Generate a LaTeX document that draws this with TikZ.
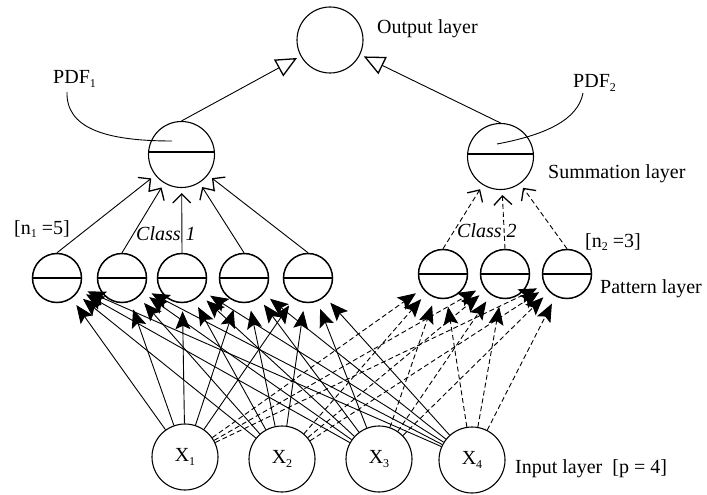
\documentclass[tikz,border=0pt]{standalone}
\usepackage{fontspec}
\setmainfont{Liberation Serif}
\usetikzlibrary{arrows.meta}
% small lowered index, as in X_1, n_1, PDF_1
\newcommand\lsub[1]{\raisebox{-3.5pt}{\fontsize{12}{12}\selectfont #1}}
\tikzset{
  unit/.style={circle, draw, line width=1.1pt, inner sep=0pt},
  outnode/.style={unit, minimum size=66pt},
  inputnode/.style={unit, minimum size=66pt},
  sumnode/.style={unit, minimum size=66pt,
    path picture={\draw[line width=1.2pt]
      ([yshift=2.5pt]path picture bounding box.west) --
      ([yshift=2.5pt]path picture bounding box.east);}},
  patnode/.style={unit, line width=1.5pt, minimum size=49pt,
    path picture={\draw[line width=1.2pt]
      (path picture bounding box.west) -- (path picture bounding box.east);}},
  dashline/.style={dash pattern=on 5pt off 3pt},
  inarrow/.style={line width=0.9pt, shorten >=8pt,
    -{Stealth[length=18pt,width=15pt,inset=3.5pt]}},
  sumarrow/.style={line width=0.9pt, shorten >=5pt,
    -{Straight Barb[length=9pt,width=18pt,line width=1.3pt]}},
  outarrow/.style={line width=0.9pt, shorten >=4pt,
    -{Triangle[open,length=21pt,width=19pt,line width=1.3pt]}},
  label/.style={inner sep=0pt, anchor=base west},
}
\begin{document}
\begin{tikzpicture}[x=1pt, y=-1pt, font=\fontsize{20}{24}\selectfont]
\useasboundingbox (0,0) rectangle (707,495);

% output and summation units
\node[outnode] (out) at (330,40) {};
\node[sumnode] (s1) at (181.5,154.5) {};
\node[sumnode] (s2) at (500.5,156.5) {};

% pattern units, class 1 and class 2
\node[patnode] (p1) at (57,278) {};
\node[patnode] (p2) at (122,278) {};
\node[patnode] (p3) at (182,278) {};
\node[patnode] (p4) at (244,278) {};
\node[patnode] (p5) at (308,278) {};
\node[patnode] (q1) at (443,274) {};
\node[patnode] (q2) at (505,274) {};
\node[patnode] (q3) at (567,274) {};

% input units
\node[inputnode] (x1) at (185,457) {X\lsub{1}};
\node[inputnode] (x2) at (282,459) {X\lsub{2}};
\node[inputnode] (x3) at (379,459) {X\lsub{3}};
\node[inputnode] (x4) at (472,460) {X\lsub{4}};

% layer labels
\node[label] (lout) at (377,33.5) {Output layer};
\node[label] (lsum) at (548,178) {Summation layer};
\node[label] (lpat) at (600,293) {Pattern layer};
\node[label] (lin)  at (515,473) {Input layer~~[p = 4]};
\node[label] (pdf1) at (53,84) {PDF\lsub{1}};
\node[label] (pdf2) at (573,88) {PDF\lsub{2}};
\node[label] (n1) at (14,234) {[n\lsub{1} =5]};
\node[label] (n2) at (585,247) {[n\lsub{2} =3]};
\node[label] (c1) at (136,240) {\itshape Class 1};
\node[label] (c2) at (457,237) {\itshape Class 2};

% input -> pattern connections
\foreach \i in {x1,x2,x3,x4} {
  \foreach \p in {p1,p2,p3,p4,p5}
    \draw[inarrow] (\i) -- (\p);
  \foreach \q in {q1,q2,q3}
    \draw[inarrow, dashline] (\i) -- (\q);
}

% pattern -> summation connections
\foreach \p in {p1,p2,p3,p4,p5}
  \draw[sumarrow] (\p.north) -- (s1);
\foreach \q in {q1,q2,q3}
  \draw[sumarrow, dashline] (\q.north) -- (s2);

% summation -> output connections
\draw[outarrow] (s1.north) -- (out);
\draw[outarrow] (s2.north) -- (out);

% pointers from the PDF labels into the summation units
\coordinate (pdf1a) at (67,92);
\coordinate (pdf1b) at (172,141);
\coordinate (pdf2a) at (583,93);
\coordinate (pdf2b) at (497,144);
\draw[line width=0.9pt] (pdf1a) .. controls (66,128) and (105,141) .. (pdf1b);
\draw[line width=0.9pt] (pdf2a) .. controls (578,120) and (545,135) .. (pdf2b);
\end{tikzpicture}
\end{document}
